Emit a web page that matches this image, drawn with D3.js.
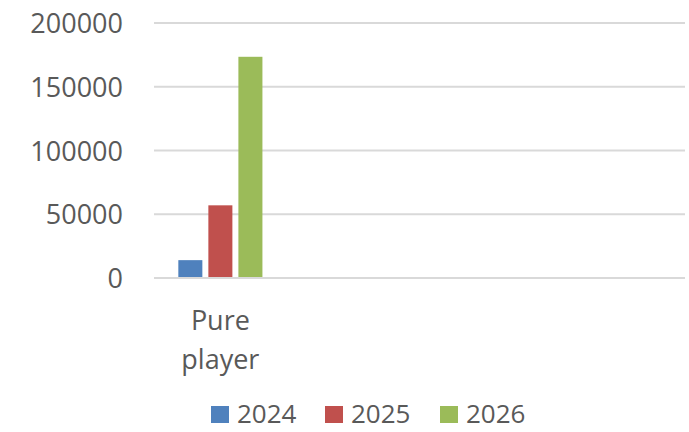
<!DOCTYPE html>
<html>
<head>
<meta charset="utf-8">
<script src="https://cdn.jsdelivr.net/npm/d3@7"></script>
<style>
  body { margin: 0; background: #fff; }
  text { font-family: "Open Sans", "Liberation Sans", sans-serif; fill: #595959; }
</style>
</head>
<body>
<div class="container"></div>
<script>
const w = 689;
const h = 432;

const categories = ['Pure player', 'c2', 'c3', 'c4'];
const categoryLabels = [['Pure', 'player'], [], [], []];
const seriesNames = ['2024', '2025', '2026'];
const seriesColors = ['#4f81bd', '#c0504d', '#9bbb59'];
const values2024 = [14000, null, null, null];
const values2025 = [57000, null, null, null];
const values2026 = [173500, null, null, null];
const yTicks = [0, 50000, 100000, 150000, 200000];

const margin = { top: 23, bottom: 154, left: 154, right: 4 };
const width = w - margin.left - margin.right;
const height = h - margin.top - margin.bottom;

const svg = d3.select('.container').append('svg')
    .attr('width', w)
    .attr('height', h);

const chart = svg.append('g')
    .attr('transform', `translate(${margin.left}, ${margin.top})`);

const x = d3.scaleBand()
    .domain(categories)
    .range([0, width]);

const xs = d3.scaleBand()
    .domain(seriesNames)
    .range([0, x.bandwidth()])
    .paddingInner(0.2)
    .paddingOuter(0.81);

const y = d3.scaleLinear()
    .domain([0, 200000])
    .range([height, 0]);

// gridlines
chart.selectAll('.grid')
    .data(yTicks)
    .enter()
    .append('line')
      .attr('x1', 0)
      .attr('x2', width)
      .attr('y1', d => y(d))
      .attr('y2', d => y(d))
      .style('stroke', '#d9d9d9')
      .style('stroke-width', 2);

// y labels
const yAxis = d3.axisLeft(y).tickValues(yTicks).tickSize(0).tickPadding(31).tickFormat(d3.format('d'));
chart.append('g')
    .call(yAxis)
    .call(g => g.select('.domain').remove())
    .selectAll('text')
      .style('font-size', '27px')
      .style('fill', '#595959')
      .style('font-family', '"Open Sans", sans-serif')
      .attr('dy', '0.36em');

const series = [values2024, values2025, values2026];
const rows = [];
series.forEach((vals, si) => {
  vals.forEach((v, ci) => {
    if (v != null) rows.push({ cat: categories[ci], s: seriesNames[si], v, color: seriesColors[si] });
  });
});

chart.selectAll('.bar')
    .data(rows)
    .enter()
    .append('rect')
      .attr('x', d => x(d.cat) + xs(d.s))
      .attr('width', xs.bandwidth())
      .attr('y', d => y(d.v))
      .attr('height', d => y(0) - y(d.v) - 1)
      .style('fill', d => d.color);

// category labels
categories.forEach((c, i) => {
  const t = chart.append('text')
      .attr('x', x(c) + x.bandwidth() / 2)
      .attr('y', height + 52)
      .attr('text-anchor', 'middle')
      .style('font-size', '27px');
  categoryLabels[i].forEach((line, li) => {
    t.append('tspan')
      .attr('x', x(c) + x.bandwidth() / 2)
      .attr('dy', li === 0 ? 0 : 39)
      .text(line);
  });
});

// legend
const legendX = [211, 325, 440];
const legend = svg.append('g');
seriesNames.forEach((s, i) => {
  legend.append('rect')
    .attr('x', legendX[i])
    .attr('y', 406)
    .attr('width', 18)
    .attr('height', 17)
    .style('fill', seriesColors[i]);
  legend.append('text')
    .attr('x', legendX[i] + 26)
    .attr('y', 423)
    .style('font-size', '26px')
    .text(s);
});
</script>
</body>
</html>
